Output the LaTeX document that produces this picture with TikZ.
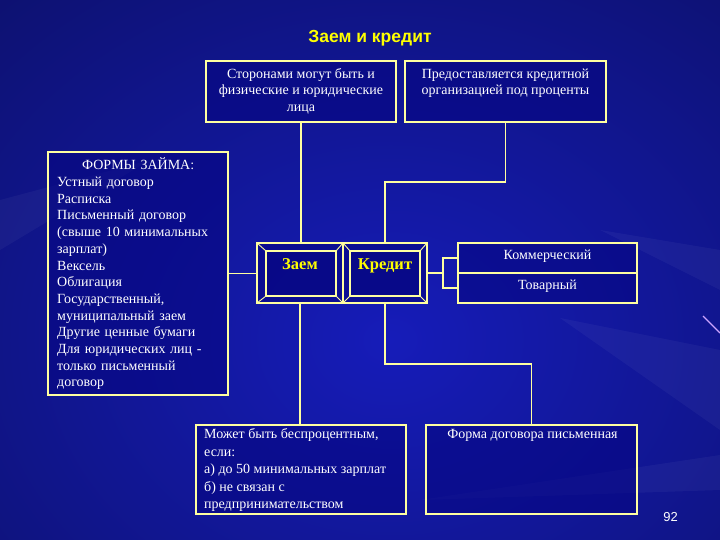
\documentclass[tikz,border=0pt]{standalone}
\usepackage{fontspec}
\setmainfont{Liberation Serif}
\newfontfamily\sansf{Liberation Sans}
\definecolor{bgbase}{RGB}{12,16,105}
\definecolor{bgmid}{RGB}{22,28,185}
\definecolor{edgec}{RGB}{255,255,160}
\definecolor{ttl}{RGB}{255,255,0}
\definecolor{boxfill}{RGB}{6,6,130}
\definecolor{pinkl}{RGB}{205,165,255}
\tikzset{
  box/.style={draw=edgec, line width=1.2pt, fill=boxfill, fill opacity=0.6, draw opacity=1, inner sep=0pt, outer sep=0pt},
  txt/.style={text=white, font=\fontsize{14}{16.8}\selectfont, inner sep=0pt},
  txtl/.style={text=white, font=\fontsize{14}{16.7}\selectfont, inner sep=0pt},
  txtc/.style={text=white, font=\fontsize{14}{17.4}\selectfont, inner sep=0pt},
  keyw/.style={text=ttl, font=\bfseries\fontsize{16.5}{19}\selectfont, inner sep=0pt},
  conn/.style={draw=edgec, line width=1.2pt},
  bevel/.style={draw=edgec, line width=0.9pt},
  streak/.style={fill=white, opacity=0.04},
}
\begin{document}
\begin{tikzpicture}[x=1pt,y=-1pt]
\useasboundingbox (0,0) rectangle (720,540);
\begin{scope}
\clip (0,0) rectangle (720,540);
\fill[bgbase] (0,0) rectangle (720,540);
\shade[inner color=bgmid, outer color=bgbase] (390,340) ellipse (640 and 520);
\fill[streak] (720,350) -- (560,318) -- (720,430) -- cycle;
\fill[streak] (720,455) -- (420,500) -- (720,490) -- cycle;
\fill[streak] (720,250) -- (600,230) -- (720,290) -- cycle;
\fill[streak] (0,200) -- (150,160) -- (0,250) -- cycle;
\draw[pinkl, line width=1.2pt] (703,316) -- (720,333);
\end{scope}

% title
\node[anchor=base, text=ttl, font=\sansf\bfseries\fontsize{17.5}{21}\selectfont, inner sep=0pt] (T) at (370,43) {Заем и кредит};

% boxes
\node[box, minimum width=190, minimum height=61] (A) at (301,91.5) {};
\node[box, minimum width=201, minimum height=61] (B) at (505.5,91.5) {};
\node[box, minimum width=180, minimum height=243] (L) at (138,273.5) {};
\node[box, minimum width=86, minimum height=60] (Z) at (300,273) {};
\node[box, minimum width=84, minimum height=60] (K) at (385,273) {};
\node[box, minimum width=70, minimum height=45] (Zi) at (301,273.5) {};
\node[box, minimum width=70, minimum height=45] (Ki) at (385,273.5) {};
\node[box, minimum width=179, minimum height=30] (Com) at (547.5,258) {};
\node[box, minimum width=179, minimum height=30] (Tov) at (547.5,288) {};
\node[box, minimum width=210, minimum height=89] (C) at (301,469.5) {};
\node[box, minimum width=211, minimum height=89] (D) at (531.5,469.5) {};

% bevels
\foreach \c in {north west, north east, south west, south east}{
  \draw[bevel] (Z.\c) -- (Zi.\c);
  \draw[bevel] (K.\c) -- (Ki.\c);
}

% connectors
\draw[conn] (A.south) -- (A.south |- Z.north);
\draw[conn] (B.south) -- ++(0,60) -| (K.north);
\draw[conn] (L.east) -- (L.east -| Z.west);
\coordinate (br) at (443,273);
\draw[conn] (K.east) -- (br);
\draw[conn] (Com.west) -| (br) |- (Tov.west);
\draw[conn] (Z.south) -- (Z.south |- C.north);
\draw[conn] (K.south) -- ++(0,61) -| (D.north);

% texts
\node[txt, align=center, anchor=north] (At) at (301,66.2) {\strut Сторонами могут быть и\\физические и юридические\\лица};
\node[txt, align=center, anchor=north] (Bt) at (505.5,66.2) {\strut Предоставляется кредитной\\организацией под проценты};
\node[txtl, align=left, anchor=north west, text width=162] (Lt) at (57,157.8) {\strut\makebox[\linewidth]{ФОРМЫ ЗАЙМА:}\\Устный договор\\Расписка\\Письменный договор\\(свыше 10 минимальных\\зарплат)\\Вексель\\Облигация\\Государственный,\\муниципальный заем\\Другие ценные бумаги\\Для юридических лиц -\\только письменный\\договор};
\node[keyw, anchor=base] (Zt) at (300,269.3) {Заем};
\node[keyw, anchor=base] (Kt) at (385,269.3) {Кредит};
\node[txt, anchor=base] (Comt) at (547.5,259.3) {Коммерческий};
\node[txt, anchor=base] (Tovt) at (547.5,289.3) {Товарный};
\node[txtc, align=left, anchor=north west] (Ct) at (204,426.5) {\strut Может быть беспроцентным,\\если:\\а) до 50 минимальных зарплат\\б) не связан с\\предпринимательством};
\node[txt, anchor=base] (Dt) at (532.5,438.3) {Форма договора письменная};
\node[anchor=base, text=white, font=\sansf\fontsize{13}{15}\selectfont, inner sep=0pt] (pg) at (670.5,521) {92};
\end{tikzpicture}
\end{document}
